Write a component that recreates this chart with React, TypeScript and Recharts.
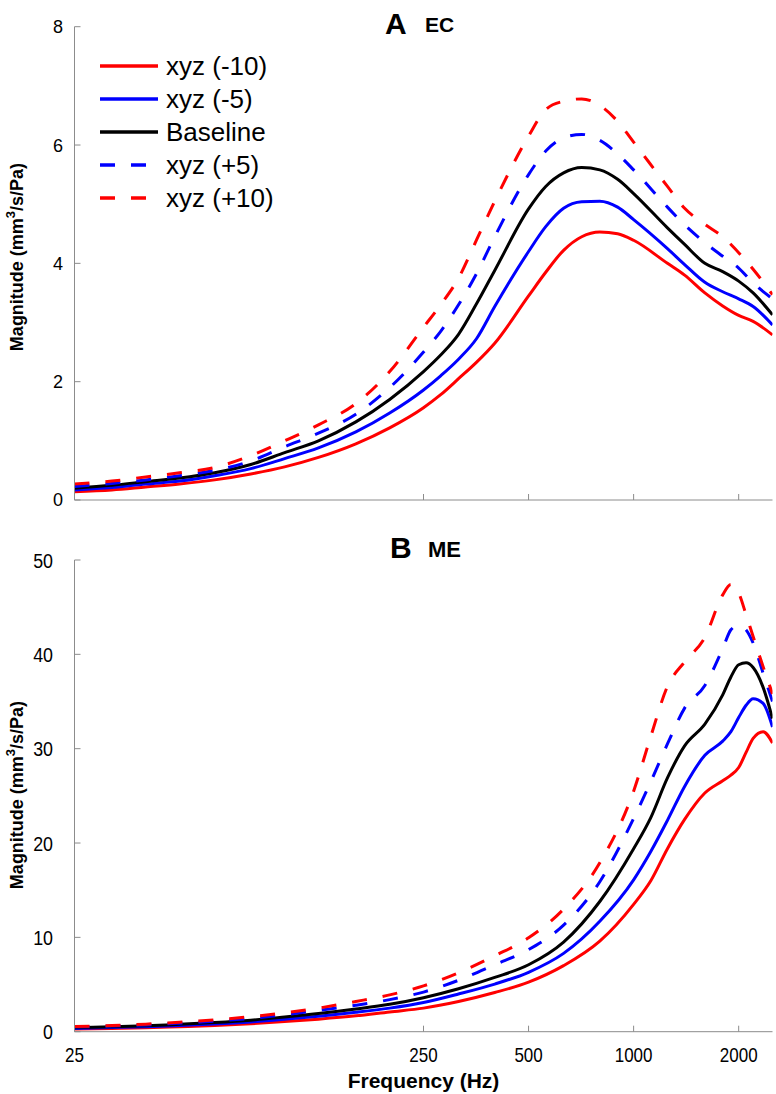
import { LineChart, Line, XAxis, YAxis, Legend } from 'recharts';

// frequency grid (Hz)
const ecFreq = [25, 32, 40, 50, 63, 80, 100, 125, 160, 200, 250, 280, 315, 355, 400, 500, 560, 630, 710, 800, 900, 1000, 1250, 1400, 1600, 1800, 2000, 2200, 2500];
const meFreq = [25, 32, 40, 50, 63, 80, 100, 125, 160, 200, 250, 315, 400, 500, 630, 800, 1000, 1120, 1250, 1400, 1600, 1800, 1900, 2000, 2100, 2200, 2350, 2500];

// panel A: EC magnitude (mm^3/s/Pa)
const ecMinus10 = [0.14, 0.17, 0.22, 0.27, 0.34, 0.44, 0.56, 0.72, 0.95, 1.22, 1.56, 1.78, 2.05, 2.33, 2.65, 3.45, 3.85, 4.22, 4.45, 4.53, 4.5, 4.39, 4.0, 3.8, 3.5, 3.28, 3.12, 3.02, 2.79];
const ecMinus5 = [0.17, 0.21, 0.27, 0.32, 0.41, 0.53, 0.7, 0.88, 1.15, 1.47, 1.86, 2.1, 2.38, 2.73, 3.27, 4.2, 4.62, 4.93, 5.04, 5.05, 4.95, 4.74, 4.25, 3.98, 3.68, 3.52, 3.4, 3.27, 2.96];
const ecBaseline = [0.2, 0.25, 0.31, 0.37, 0.46, 0.6, 0.8, 1.0, 1.32, 1.7, 2.17, 2.45, 2.8, 3.32, 3.88, 4.92, 5.3, 5.53, 5.62, 5.58, 5.42, 5.18, 4.6, 4.32, 4.0, 3.86, 3.7, 3.5, 3.13];
const ecPlus5 = [0.23, 0.28, 0.34, 0.41, 0.5, 0.66, 0.9, 1.13, 1.45, 1.9, 2.5, 2.85, 3.3, 3.83, 4.45, 5.5, 5.9, 6.12, 6.18, 6.08, 5.85, 5.58, 4.95, 4.65, 4.35, 4.12, 3.92, 3.67, 3.4];
const ecPlus10 = [0.27, 0.32, 0.39, 0.46, 0.55, 0.75, 1.0, 1.27, 1.63, 2.17, 2.92, 3.3, 3.75, 4.4, 5.05, 6.15, 6.6, 6.74, 6.78, 6.67, 6.4, 6.05, 5.3, 4.93, 4.66, 4.45, 4.18, 3.9, 3.47];

// panel B: ME magnitude (mm^3/s/Pa)
const meMinus10 = [0.28, 0.35, 0.42, 0.53, 0.66, 0.84, 1.07, 1.33, 1.68, 2.1, 2.5, 3.2, 4.15, 5.25, 7.0, 9.6, 13.5, 16.0, 19.4, 22.5, 25.3, 26.6, 27.2, 28.0, 29.6, 31.1, 31.8, 30.6];
const meMinus5 = [0.35, 0.44, 0.53, 0.66, 0.82, 1.04, 1.32, 1.63, 2.05, 2.5, 3.1, 4.0, 5.05, 6.3, 8.3, 11.7, 16.1, 19.1, 22.4, 26.0, 29.3, 30.8, 31.8, 33.3, 34.6, 35.3, 34.8, 32.3];
const meBaseline = [0.42, 0.52, 0.62, 0.78, 0.97, 1.22, 1.55, 1.92, 2.4, 2.9, 3.6, 4.55, 5.75, 7.1, 9.5, 13.8, 19.4, 22.7, 26.9, 30.3, 32.6, 35.7, 37.6, 38.9, 39.1, 38.6, 36.5, 33.2];
const mePlus5 = [0.5, 0.6, 0.72, 0.9, 1.12, 1.42, 1.8, 2.25, 2.8, 3.4, 4.2, 5.45, 7.1, 8.7, 11.3, 15.9, 22.6, 26.5, 30.5, 34.3, 36.7, 40.6, 42.6, 43.1, 42.6, 41.2, 38.0, 35.0];
const mePlus10 = [0.55, 0.65, 0.8, 1.0, 1.25, 1.6, 2.0, 2.5, 3.2, 3.9, 4.85, 6.25, 8.05, 9.95, 13.0, 17.9, 25.5, 31.3, 36.6, 39.2, 41.8, 46.3, 47.4, 46.5, 44.2, 41.9, 38.7, 35.8];

const xTicks = [25, 250, 500, 1000, 2000];
const ecTicks = [0, 2, 4, 6, 8];
const meTicks = [0, 10, 20, 30, 40, 50];

const series = [
  { key: 'm10', name: 'xyz (-10)', color: '#ff0000', dash: undefined },
  { key: 'm5', name: 'xyz (-5)', color: '#0000ff', dash: undefined },
  { key: 'base', name: 'Baseline', color: '#000000', dash: undefined },
  { key: 'p5', name: 'xyz (+5)', color: '#0000ff', dash: '15 16' },
  { key: 'p10', name: 'xyz (+10)', color: '#ff0000', dash: '15 16' },
];

const ecData = ecFreq.map((f, i) => ({
  f, m10: ecMinus10[i], m5: ecMinus5[i], base: ecBaseline[i], p5: ecPlus5[i], p10: ecPlus10[i],
}));
const meData = meFreq.map((f, i) => ({
  f, m10: meMinus10[i], m5: meMinus5[i], base: meBaseline[i], p5: mePlus5[i], p10: mePlus10[i],
}));

const FONT = '"Liberation Sans", Arial, Helvetica, sans-serif';
const AXIS = '#8c8c8c';

const NoTick = () => null;

const XTick = (props: any) => {
  const { x, y, payload } = props;
  return (
    <g transform={`translate(${x},${y})`}>
      <text transform="scale(0.85,1)" textAnchor="middle" dy="0.71em" fontSize={20} fill="#000" fontFamily={FONT}>
        {payload.value}
      </text>
    </g>
  );
};

const YTick = (props: any) => {
  const { x, y, payload, squeeze, size } = props;
  return (
    <g transform={`translate(${x},${y})`}>
      <text transform={`scale(${squeeze},1)`} textAnchor="end" dy="0.36em" fontSize={size} fill="#000" fontFamily={FONT}>
        {payload.value}
      </text>
    </g>
  );
};

const yLabel = (cy: number) => () => (
  <text transform={`translate(23,${cy}) rotate(-90)`} textAnchor="middle" fontSize={18} fontWeight="bold" fill="#000" fontFamily={FONT}>
    <tspan>Magnitude (mm</tspan>
    <tspan dy={-8} fontSize={13}>3</tspan>
    <tspan dy={8}>/s/Pa)</tspan>
  </text>
);

const LegendBox = () => (
  <svg width={320} height={175} style={{ overflow: 'visible' }}>
    {series.map((s, i) => (
      <g key={s.key}>
        <line x1={0} x2={58} y1={8 + i * 33} y2={8 + i * 33} stroke={s.color} strokeWidth={3.5} strokeDasharray={s.dash} />
        <text x={66} y={8 + i * 33} dy="0.36em" fontSize={26} fill="#000" fontFamily={FONT}>{s.name}</text>
      </g>
    ))}
  </svg>
);

function lines() {
  return series.map((s) => (
    <Line
      key={s.key}
      type="monotone"
      dataKey={s.key}
      name={s.name}
      stroke={s.color}
      strokeWidth={3}
      strokeDasharray={s.dash}
      dot={false}
      activeDot={false}
      isAnimationActive={false}
    />
  ));
}

export default function App() {
  return (
    <div style={{ position: 'absolute', left: 0, top: 0, width: 776, height: 1094, background: '#fff' }}>
      <div style={{ position: 'absolute', left: 0, top: 0 }}>
        <LineChart width={776} height={520} data={ecData} margin={{ top: 26.7, right: 3.5, left: 34.5, bottom: 0 }}>
          <XAxis
            dataKey="f" type="number" scale="log" domain={[25, 2500]} ticks={xTicks} allowDataOverflow
            height={20} stroke={AXIS} tickSize={-6} tick={NoTick}
          />
          <YAxis
            type="number" domain={[0, 8]} ticks={ecTicks} width={40} stroke={AXIS} tickSize={-6} tickMargin={17.5}
            tick={<YTick squeeze={1} size={18} />} label={yLabel(257)}
          />
          <Legend layout="vertical" align="center" verticalAlign="middle" content={LegendBox} wrapperStyle={{ left: 100, top: 58, width: 320 }} />
          {lines()}
        </LineChart>
      </div>
      <div style={{ position: 'absolute', left: 0, top: 520 }}>
        <LineChart width={776} height={574} data={meData} margin={{ top: 40, right: 3.5, left: 34.5, bottom: 0 }}>
          <XAxis
            dataKey="f" type="number" scale="log" domain={[25, 2500]} ticks={xTicks} allowDataOverflow
            height={62.3} stroke={AXIS} tickSize={-6} tickMargin={22.5} tick={<XTick />}
          />
          <YAxis
            type="number" domain={[0, 50]} ticks={meTicks} width={40} stroke={AXIS} tickSize={-6} tickMargin={27.5}
            tick={<YTick squeeze={0.85} size={21} />} label={yLabel(275)}
          />
          {lines()}
        </LineChart>
      </div>
      <svg width={776} height={1094} style={{ position: 'absolute', left: 0, top: 0, pointerEvents: 'none' }}>
        <text x={385} y={34} fontSize={30} fontWeight="bold" fontFamily={FONT} fill="#000">A</text>
        <text x={425} y={32} fontSize={21} fontWeight="bold" fontFamily={FONT} fill="#000">EC</text>
        <text x={390} y={558} fontSize={30} fontWeight="bold" fontFamily={FONT} fill="#000">B</text>
        <text x={428} y={557} fontSize={22} fontWeight="bold" fontFamily={FONT} fill="#000">ME</text>
        <text x={423.5} y={1088} textAnchor="middle" fontSize={21} fontWeight="bold" fontFamily={FONT} fill="#000">Frequency (Hz)</text>
      </svg>
    </div>
  );
}
